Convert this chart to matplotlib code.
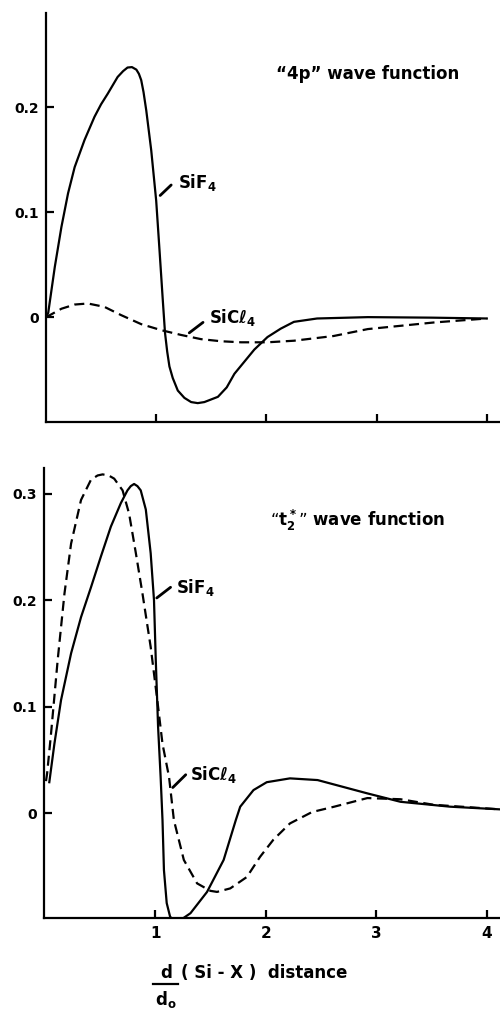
import matplotlib
matplotlib.use("Agg")
import matplotlib.pyplot as plt
from matplotlib.lines import Line2D

plt.rcParams['font.family'] = ['DejaVu Sans']
plt.rcParams['font.weight'] = 'bold'
plt.rcParams['mathtext.fontset'] = 'dejavusans'
plt.rcParams['mathtext.default'] = 'bf'

# ---- data: top panel "4p" wave function ----
p4_sif4_x = [0.0, 0.02, 0.08, 0.14, 0.20, 0.26, 0.35, 0.44, 0.50, 0.56, 0.65, 0.70, 0.74, 0.78, 0.82, 0.843,
             0.864, 0.885, 0.91, 0.955, 1.0, 1.03, 1.06, 1.08, 1.10, 1.12, 1.15, 1.196, 1.256, 1.317,
             1.377, 1.437, 1.56, 1.64, 1.71, 1.89, 2.01, 2.13, 2.25, 2.46, 2.92, 3.5, 4.0]
p4_sif4_y = [0.0, 0.004, 0.048, 0.086, 0.118, 0.143, 0.169, 0.191, 0.203, 0.213, 0.229, 0.2346, 0.238, 0.2384,
             0.236, 0.232, 0.226, 0.2146, 0.197, 0.159, 0.111, 0.064, 0.016, -0.015, -0.033, -0.047,
             -0.058, -0.070, -0.077, -0.081, -0.082, -0.081, -0.076, -0.067, -0.054, -0.031, -0.019, -0.011,
             -0.0045, -0.0013, 0.0, -0.0005, -0.0013]
p4_sicl4_x = [0.0, 0.02, 0.14, 0.26, 0.38, 0.53, 0.68, 0.864, 1.045, 1.226, 1.407, 1.588,
              1.77, 2.01, 2.25, 2.61, 2.92, 3.52, 4.0]
p4_sicl4_y = [0.0, 0.001, 0.008, 0.012, 0.013, 0.0098, 0.002, -0.0067, -0.0124, -0.017, -0.021, -0.023,
              -0.024, -0.024, -0.0225, -0.018, -0.0114, -0.0051, -0.0013]

# ---- data: bottom panel "t2*" wave function ----
t2_sif4_x = [0.043, 0.089, 0.149, 0.24, 0.33, 0.42, 0.51, 0.60, 0.69, 0.75, 0.78, 0.81, 0.84, 0.87,
             0.916, 0.96, 0.99, 1.006, 1.027, 1.05, 1.067, 1.08, 1.105, 1.135, 1.16, 1.20, 1.25,
             1.32, 1.47, 1.62, 1.73, 1.77, 1.89, 2.01, 2.22, 2.47, 2.92, 3.22, 3.67, 4.12]
t2_sif4_y = [0.029, 0.065, 0.106, 0.150, 0.184, 0.212, 0.241, 0.269, 0.291, 0.303, 0.307, 0.309, 0.307,
             0.303, 0.285, 0.244, 0.200, 0.144, 0.081, 0.034, -0.0066, -0.0535, -0.0845, -0.097, -0.1005,
             -0.1005, -0.099, -0.094, -0.074, -0.044, -0.0066, 0.006, 0.0216, 0.029, 0.0326, 0.031,
             0.0185, 0.0106, 0.006, 0.0035]
t2_sicl4_x = [0.013, 0.023, 0.059, 0.119, 0.18, 0.24, 0.33, 0.42, 0.48, 0.525, 0.58, 0.63, 0.706,
              0.765, 0.826, 0.886, 0.96, 1.02, 1.067, 1.126, 1.17, 1.26, 1.38, 1.50, 1.56, 1.68,
              1.83, 1.95, 2.07, 2.22, 2.42, 2.62, 2.92, 3.22, 3.52, 4.12]
t2_sicl4_y = [0.030, 0.037, 0.075, 0.144, 0.206, 0.253, 0.294, 0.313, 0.317, 0.318, 0.317, 0.314, 0.303,
              0.281, 0.244, 0.206, 0.156, 0.106, 0.065, 0.034, -0.0066, -0.044, -0.066, -0.073, -0.074,
              -0.0707, -0.060, -0.041, -0.025, -0.0097, 0.001, 0.006, 0.0141, 0.013, 0.0078, 0.0035]

x_ticks = [1, 2, 3, 4]
x_tick_labels = ['1', '2', '3', '4']
top_y_ticks = [0.0, 0.1, 0.2]
top_y_labels = ['0', '0.1', '0.2']
bot_y_ticks = [0.0, 0.1, 0.2, 0.3]
bot_y_labels = ['0', '0.1', '0.2', '0.3']

W, H = 500, 1011
fig = plt.figure(figsize=(W / 100, H / 100), dpi=100)

def fx(px):
    return px / W

def fy(py):
    return 1 - py / H

ax1 = fig.add_axes([fx(46), fy(422), fx(500) - fx(46), fy(13) - fy(422)])
ax2 = fig.add_axes([fx(44), fy(918), fx(500) - fx(44), fy(468) - fy(918)])

dash = (0, (4.5, 2.5))
for ax in (ax1, ax2):
    for s in ('top', 'right'):
        ax.spines[s].set_visible(False)
    for s in ('left', 'bottom'):
        ax.spines[s].set_linewidth(1.6)
    ax.tick_params(direction='in', length=6, width=1.6, labelsize=10, pad=5)
    ax.set_xticks(x_ticks)

ax1.plot(p4_sif4_x, p4_sif4_y, color='black', lw=1.6, solid_joinstyle='round')
ax1.plot(p4_sicl4_x, p4_sicl4_y, color='black', lw=1.6, linestyle=dash)
ax1.set_xlim(0.0, 4.12)
ax1.set_ylim(-0.1, 0.29)
ax1.set_yticks(top_y_ticks)
ax1.set_yticklabels(top_y_labels, fontweight='bold')
ax1.set_xticklabels([])

ax2.plot(t2_sif4_x, t2_sif4_y, color='black', lw=1.6, solid_joinstyle='round')
ax2.plot(t2_sicl4_x, t2_sicl4_y, color='black', lw=1.6, linestyle=dash)
ax2.set_xlim(-0.005, 4.12)
ax2.set_ylim(-0.0985, 0.324)
ax2.set_yticks(bot_y_ticks)
ax2.set_yticklabels(bot_y_labels, fontweight='bold')
ax2.set_xticklabels(x_tick_labels, fontweight='bold')
ax2.tick_params(axis='x', pad=6, labelsize=11)

# titles inside panels
ax1.text(2.086, 0.232, '“4p” wave function', fontsize=12, fontweight='bold', va='center', ha='left')
ax2.text(2.04, 0.275, '“t$_2^*$” wave function', fontsize=12, fontweight='bold', va='center', ha='left')

# curve labels with pointer strokes
arrow = dict(arrowstyle='-', lw=2.0, color='black', shrinkA=0, shrinkB=0)
ax1.annotate('', xy=(1.036, 0.116), xytext=(1.136, 0.126), arrowprops=arrow)
ax1.text(1.20, 0.128, 'SiF$_4$', fontsize=12, fontweight='bold', va='center', ha='left')
ax1.annotate('', xy=(1.30, -0.015), xytext=(1.425, -0.005), arrowprops=arrow)
ax1.text(1.48, 0.0, 'SiCℓ$_4$', fontsize=12, fontweight='bold', va='center', ha='left')

ax2.annotate('', xy=(1.015, 0.202), xytext=(1.14, 0.212), arrowprops=arrow)
ax2.text(1.187, 0.212, 'SiF$_4$', fontsize=12, fontweight='bold', va='center', ha='left')
ax2.annotate('', xy=(1.16, 0.024), xytext=(1.277, 0.036), arrowprops=arrow)
ax2.text(1.32, 0.036, 'SiCℓ$_4$', fontsize=12, fontweight='bold', va='center', ha='left')

# x axis label: d / d_o (Si - X) distance
fig.text(fx(166), fy(973), 'd', fontsize=12, fontweight='bold', ha='center', va='center')
fig.add_artist(Line2D([fx(153), fx(178)], [fy(984), fy(984)], color='black', lw=1.6))
fig.text(fx(166), fy(999), 'd$_o$', fontsize=12, fontweight='bold', ha='center', va='center')
fig.text(fx(181), fy(973), '( Si - X )  distance', fontsize=12, fontweight='bold', ha='left', va='center')

fig.savefig('out.png', dpi=100)
